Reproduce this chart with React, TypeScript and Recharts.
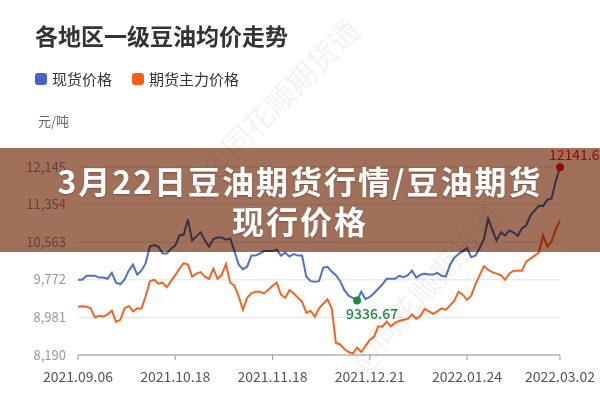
import React from "react";
import {
  LineChart,
  Line,
  XAxis,
  YAxis,
  CartesianGrid,
  Legend,
  ReferenceDot,
} from "recharts";

const title = "各地区一级豆油均价走势";
const unitLabel = "元/吨";
const bannerLine1 = "3月22日豆油期货行情/豆油期货";
const bannerLine2 = "现行价格";
const watermarkText = "@同花顺期货通";

const seriesNames = ["现货价格", "期货主力价格"];
const seriesColors = ["#5470c6", "#f26522"];

const xTickIndex = [0, 23, 46, 69, 92, 114];
const xTickLabels = ["2021.09.06", "2021.10.18", "2021.11.18", "2021.12.21", "2022.01.24", "2022.03.02"];
const yTicks = [8190, 8981, 9772, 10563, 11354, 12145];

const spotPrice = [
  9773, 9773, 9857, 9857, 9857, 9819, 9819, 9793, 9920, 9711,
  9679, 9773, 9964, 10091, 9882, 9964, 10123, 10471, 10503, 10471,
  10325, 10325, 10427, 10490, 10705, 10724, 11041, 10598, 10686, 10770,
  10598, 10471, 10629, 10661, 10661, 10617, 10642, 10376, 10091, 9996,
  10047, 10281, 10281, 10325, 10376, 10376, 10376, 10408, 10281, 10344,
  10262, 10313, 10281, 10281, 9838, 9743, 9730, 9743, 10028, 10047,
  9945, 9869, 9743, 9553, 9439, 9394, 9336.67, 9521, 9363, 9412,
  9488, 9583, 9678, 9792, 9792, 9792, 9857, 9825, 9869, 9964,
  9819, 9882, 9901, 9882, 9882, 9920, 9857, 9838, 10091, 10237,
  10313, 10376, 10439, 10249, 10281, 10439, 10629, 11061, 10820, 10598,
  10770, 10705, 10807, 10770, 10693, 10851, 10914, 11124, 11231, 11326,
  11326, 11453, 11485, 11846, 12141.67,
];

const futuresPrice = [
  9203, 9216, 9203, 9172, 8981, 9013, 9000, 9045, 9121, 8888,
  8931, 9172, 9222, 9108, 9172, 9165, 9426, 9743, 9773, 9692,
  9711, 9616, 9743, 9869, 10009, 10123, 10091, 9838, 9901, 9933,
  9838, 9793, 10009, 9793, 9882, 10104, 9711, 9648, 9426, 9140,
  9394, 9489, 9521, 9521, 9489, 9565, 9648, 9711, 9458, 9394,
  9553, 9489, 9394, 9312, 9078, 9121, 8995, 9172, 9267, 9363,
  9172, 8443, 8412, 8317, 8253, 8222, 8348, 8253, 8380, 8507,
  8570, 8792, 8792, 8888, 8792, 8869, 8907, 8931, 8950, 9045,
  8950, 9013, 9159, 9108, 9058, 9108, 9172, 9140, 9235, 9331,
  9521, 9458, 9350, 9439, 9678, 9869, 10059, 9983, 9933, 9901,
  9869, 9773, 9901, 9964, 9964, 9964, 10154, 10218, 10281, 10344,
  10705, 10471, 10579, 10833, 11022,
];

const data = spotPrice.map((v, i) => ({ i, spot: v, futures: futuresPrice[i] }));

const maxVal = Math.max(...spotPrice);
const maxIdx = spotPrice.indexOf(maxVal);
const minVal = Math.min(...spotPrice);
const minIdx = spotPrice.indexOf(minVal);

const FONT = "'Noto Sans CJK SC', 'Noto Sans', sans-serif";

const fmtThousands = (v: number) => v.toLocaleString("en-US");
const fmtX = (v: number) => {
  const k = xTickIndex.indexOf(v);
  return k >= 0 ? xTickLabels[k] : "";
};

const renderLegend = () => (
  <div style={{ display: "flex", alignItems: "center", fontFamily: FONT, fontSize: 15, color: "#333" }}>
    {seriesNames.map((n, k) => (
      <div key={n} style={{ display: "flex", alignItems: "center", marginRight: 20 }}>
        <span
          style={{
            display: "inline-block",
            width: 12,
            height: 12,
            borderRadius: 3,
            background: k === 0 ? "#4a62c8" : "#ff5a12",
            marginRight: 5,
          }}
        />
        <span>{n}</span>
      </div>
    ))}
  </div>
);

const MaxDot = (props: any) => {
  const { cx, cy } = props;
  return (
    <g>
      <circle cx={cx} cy={cy} r={4} fill="#e8141f" />
      <text x={cx - 11} y={cy - 7} fill="#e8141f" fontSize={14} fontFamily={FONT}>
        {String(maxVal)}
      </text>
    </g>
  );
};

const MinDot = (props: any) => {
  const { cx, cy } = props;
  return (
    <g>
      <circle cx={cx} cy={cy} r={4} fill="#1a8f3c" />
      <text x={cx - 11} y={cy + 19} fill="#1f8a45" fontSize={14} fontWeight={500} fontFamily={FONT}>
        {String(minVal)}
      </text>
    </g>
  );
};

export default function App() {
  return (
    <div
      style={{
        position: "absolute",
        left: 0,
        top: 0,
        width: 600,
        height: 400,
        background: "#fff",
        overflow: "hidden",
        fontFamily: FONT,
      }}
    >
      <div
        style={{
          position: "absolute",
          left: 35,
          top: 18,
          fontSize: 23,
          fontWeight: 700,
          color: "#333",
          whiteSpace: "nowrap",
        }}
      >
        {title}
      </div>
      <div style={{ position: "absolute", left: 38, top: 111, fontSize: 13, color: "#666" }}>{unitLabel}</div>

      <LineChart
        width={600}
        height={400}
        data={data}
        margin={{ top: 146, right: 40, left: 0, bottom: 15 }}
      >
        <CartesianGrid vertical={false} stroke="#e3e3e3" />
        <XAxis
          dataKey="i"
          type="number"
          domain={[0, 114]}
          ticks={xTickIndex}
          tickFormatter={fmtX}
          interval={0}
          height={30}
          axisLine={{ stroke: "#999" }}
          tickLine={{ stroke: "#999" }}
          tickSize={5}
          tickMargin={12}
          tick={{ fill: "#555", fontSize: 14, fontFamily: FONT }}
        />
        <YAxis
          width={78}
          type="number"
          domain={[8190, 12145]}
          ticks={yTicks}
          tickFormatter={fmtThousands}
          axisLine={false}
          tickLine={false}
          tickMargin={6}
          tick={{ fill: "#999", fontSize: 13, fontFamily: FONT }}
        />
        <Legend
          verticalAlign="top"
          align="left"
          content={renderLegend}
          wrapperStyle={{ position: "absolute", top: 68, left: 35, width: 400 }}
        />
        <Line
          type="linear"
          dataKey="spot"
          name={seriesNames[0]}
          stroke={seriesColors[0]}
          strokeWidth={2}
          dot={false}
          activeDot={false}
          isAnimationActive={false}
        />
        <Line
          type="linear"
          dataKey="futures"
          name={seriesNames[1]}
          stroke={seriesColors[1]}
          strokeWidth={2}
          dot={false}
          activeDot={false}
          isAnimationActive={false}
        />
        <ReferenceDot x={maxIdx} y={maxVal} r={4} shape={MaxDot} ifOverflow="visible" />
        <ReferenceDot x={minIdx} y={minVal} r={4} shape={MinDot} ifOverflow="visible" />
      </LineChart>

      <div
        style={{
          position: "absolute",
          left: 175,
          top: 75,
          fontSize: 30,
          color: "rgba(0,0,0,0.05)",
          transform: "rotate(-45deg)",
          whiteSpace: "nowrap",
          pointerEvents: "none",
        }}
      >
        {watermarkText}
      </div>
      <div
        style={{
          position: "absolute",
          left: 320,
          top: 265,
          fontSize: 30,
          color: "rgba(0,0,0,0.05)",
          transform: "rotate(-48deg)",
          whiteSpace: "nowrap",
          pointerEvents: "none",
        }}
      >
        {watermarkText}
      </div>

      <div
        style={{
          position: "absolute",
          left: 0,
          top: 148,
          width: 600,
          height: 104,
          background: "#a0705a",
          mixBlendMode: "multiply",
        }}
      />
      <div
        style={{
          position: "absolute",
          left: 0,
          top: 148,
          width: 600,
          height: 104,
          display: "flex",
          flexDirection: "column",
          alignItems: "center",
          justifyContent: "center",
          color: "#fff",
          fontWeight: 700,
          fontSize: 32,
          letterSpacing: 2,
          lineHeight: "40px",
          textShadow: "0 1px 2px rgba(0,0,0,0.25)",
        }}
      >
        <div>{bannerLine1}</div>
        <div>{bannerLine2}</div>
      </div>
    </div>
  );
}
